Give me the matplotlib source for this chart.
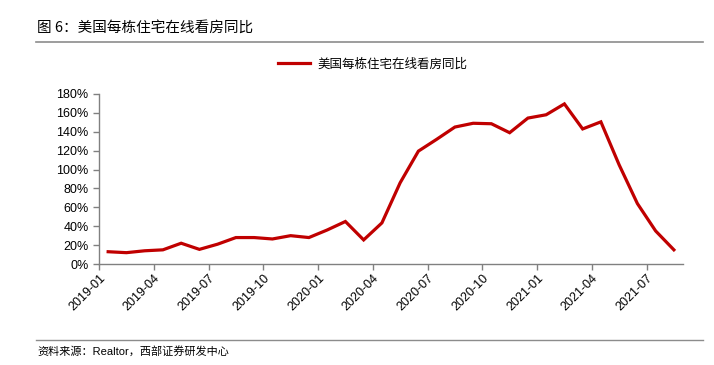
import numpy as np
import matplotlib
matplotlib.use("Agg")
import matplotlib.pyplot as plt
import matplotlib.transforms as mtransforms
from matplotlib.lines import Line2D
from matplotlib.ticker import MultipleLocator, FuncFormatter

plt.rcParams['font.family'] = ['Liberation Sans', 'Noto Sans CJK SC', 'DejaVu Sans']

# Monthly data 2019-01 .. 2021-08 (YoY, %)
months = [f"{y}-{m:02d}" for y in (2019, 2020, 2021) for m in range(1, 13)][:32]
yoy = [13, 12, 14, 15, 22, 15.5, 21, 28, 28, 26.5, 30, 28,
       36, 45, 25.5, 43.5, 86, 119.5, 132, 145, 149, 148.5, 139, 154.5,
       158, 169.5, 143, 150.5, 105, 64, 35, 15]
tick_labels = months[::3]
series_name = "美国每栋住宅在线看房同比"
title = "图 6：美国每栋住宅在线看房同比"
source = "资料来源：Realtor，西部证券研发中心"

red = "#C00000"
grey = "#808080"

fig = plt.figure(figsize=(7.14, 3.65), dpi=100)
ax = fig.add_axes([0.1387, 0.2767, 0.8179, 0.4658])

x = np.arange(len(yoy)) + 0.5
ax.plot(x, yoy, color=red, lw=2.3, solid_joinstyle='miter')

ax.set_xlim(0, len(yoy))
ax.set_ylim(0, 180)
ax.yaxis.set_major_locator(MultipleLocator(20))
ax.yaxis.set_major_formatter(FuncFormatter(lambda v, p: f"{v:.0f}%"))
ax.set_xticks(np.arange(0, len(yoy), 3))
ax.set_xticklabels(tick_labels, rotation=45, ha='right', rotation_mode='anchor')

# shift rotated labels a little right, like the original
offset = mtransforms.ScaledTranslation(0.08, -0.02, fig.dpi_scale_trans)
for lab in ax.get_xticklabels():
    lab.set_transform(lab.get_transform() + offset)

for s in ('top', 'right'):
    ax.spines[s].set_visible(False)
for s in ('left', 'bottom'):
    ax.spines[s].set_color(grey)
    ax.spines[s].set_linewidth(1.0)
ax.tick_params(axis='both', colors=grey, labelcolor='black', labelsize=9,
               direction='out', length=4, width=1.0)
ax.tick_params(axis='x', pad=2)

# legend on top
handle = Line2D([], [], color=red, lw=2.3)
fig.legend([handle], [series_name], loc='center', bbox_to_anchor=(0.522, 0.825),
           frameon=False, handlelength=2.6, handletextpad=0.6,
           prop={'family': ['Noto Sans CJK SC'], 'size': 9})

# title and separators
fig.text(0.052, 0.925, title, fontsize=10.5, va='center', ha='left',
         family=['Noto Sans CJK SC', 'DejaVu Sans'])
fig.add_artist(Line2D([0.05, 0.985], [0.886, 0.886], color='#8c8c8c', lw=1.2))
fig.add_artist(Line2D([0.05, 0.985], [0.068, 0.068], color='#8c8c8c', lw=1.0))
fig.text(0.052, 0.038, source, fontsize=8, va='center', ha='left')

fig.savefig("out.png", dpi=100)
